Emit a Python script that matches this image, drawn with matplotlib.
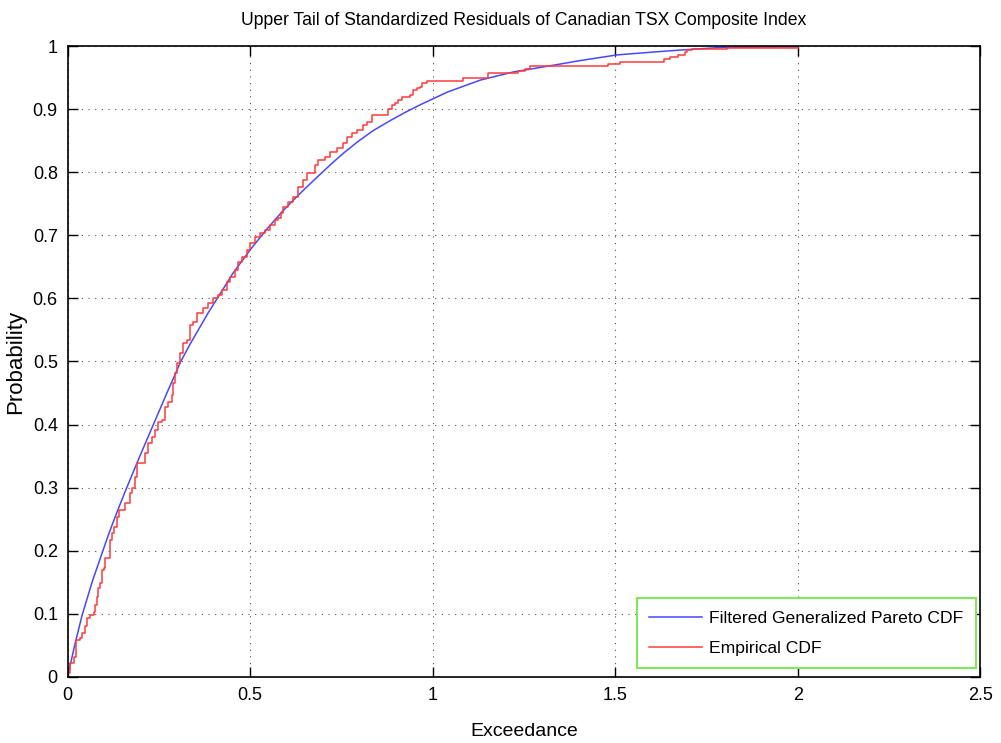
import numpy as np
import matplotlib.pyplot as plt

# Fitted generalized Pareto CDF
gpd_x = [0.0, 0.021, 0.040, 0.067, 0.095, 0.110, 0.124, 0.142, 0.160, 0.198,
         0.235, 0.272, 0.310, 0.335, 0.360, 0.385, 0.410, 0.453, 0.500, 0.546,
         0.590, 0.636, 0.683, 0.720, 0.755, 0.796, 0.837, 0.884, 0.925, 0.966,
         1.040, 1.130, 1.221, 1.314, 1.404, 1.505, 1.615, 1.686, 1.796, 2.0]
gpd_y = [0.0, 0.054, 0.098, 0.150, 0.197, 0.222, 0.244, 0.271, 0.297, 0.350,
         0.400, 0.450, 0.500, 0.527, 0.552, 0.577, 0.600, 0.640, 0.677, 0.710,
         0.739, 0.766, 0.792, 0.812, 0.830, 0.849, 0.866, 0.882, 0.895, 0.907,
         0.927, 0.946, 0.959, 0.968, 0.977, 0.986, 0.991, 0.994, 0.998, 0.999]

# Empirical CDF step corners
ecdf_x = [0.0, 0.007, 0.018, 0.023, 0.034, 0.040, 0.048, 0.053, 0.062, 0.073,
          0.075, 0.081, 0.084, 0.089, 0.095, 0.100, 0.103, 0.116, 0.122, 0.127,
          0.136, 0.141, 0.158, 0.171, 0.177, 0.185, 0.190, 0.212, 0.221, 0.232,
          0.240, 0.248, 0.259, 0.267, 0.275, 0.286, 0.289, 0.295, 0.300, 0.308,
          0.316, 0.327, 0.336, 0.344, 0.355, 0.371, 0.385, 0.399, 0.412, 0.423,
          0.437, 0.445, 0.459, 0.467, 0.478, 0.492, 0.500, 0.514, 0.527, 0.541,
          0.555, 0.568, 0.577, 0.585, 0.590, 0.604, 0.618, 0.632, 0.645, 0.656,
          0.678, 0.686, 0.705, 0.719, 0.738, 0.755, 0.766, 0.779, 0.793, 0.810,
          0.821, 0.834, 0.878, 0.889, 0.897, 0.905, 0.916, 0.938, 0.947, 0.957,
          0.966, 0.971, 0.985, 1.084, 1.152, 1.234, 1.253, 1.267, 1.481, 1.514,
          1.632, 1.651, 1.673, 1.692, 1.697, 1.711, 1.807, 2.0]
ecdf_y = [0.006, 0.022, 0.032, 0.059, 0.062, 0.070, 0.080, 0.093, 0.098, 0.103,
          0.114, 0.127, 0.141, 0.149, 0.170, 0.173, 0.189, 0.217, 0.228, 0.238,
          0.254, 0.265, 0.276, 0.292, 0.300, 0.317, 0.339, 0.355, 0.371, 0.380,
          0.391, 0.404, 0.407, 0.428, 0.436, 0.447, 0.466, 0.482, 0.498, 0.513,
          0.529, 0.534, 0.558, 0.563, 0.577, 0.585, 0.593, 0.600, 0.605, 0.613,
          0.626, 0.634, 0.645, 0.658, 0.666, 0.677, 0.688, 0.697, 0.704, 0.708,
          0.716, 0.724, 0.727, 0.735, 0.745, 0.753, 0.761, 0.777, 0.788, 0.799,
          0.811, 0.819, 0.824, 0.832, 0.838, 0.846, 0.856, 0.862, 0.867, 0.875,
          0.880, 0.891, 0.900, 0.906, 0.910, 0.914, 0.919, 0.922, 0.930, 0.933,
          0.935, 0.941, 0.945, 0.949, 0.957, 0.960, 0.963, 0.968, 0.971, 0.974,
          0.980, 0.983, 0.986, 0.990, 0.994, 0.996, 0.997, 0.997]

xticks = [0, 0.5, 1, 1.5, 2, 2.5]
xticklabels = ['0', '0.5', '1', '1.5', '2', '2.5']
yticks = [0, 0.1, 0.2, 0.3, 0.4, 0.5, 0.6, 0.7, 0.8, 0.9, 1]
yticklabels = ['0', '0.1', '0.2', '0.3', '0.4', '0.5', '0.6', '0.7', '0.8', '0.9', '1']

plt.rcParams['font.family'] = ['Liberation Sans', 'DejaVu Sans']

fig = plt.figure(figsize=(10.01, 7.43), dpi=100)
ax = fig.add_axes([0.0675, 0.089, 0.912, 0.849])

ax.plot(gpd_x, gpd_y, color='#4747ff', lw=1.1, label='Filtered Generalized Pareto CDF')
ax.plot(ecdf_x, ecdf_y, color='#ff3a3a', lw=1.1, drawstyle='steps-post', label='Empirical CDF')

ax.set_xlim(0, 2.5)
ax.set_ylim(0, 1)
ax.set_xticks(xticks)
ax.set_xticklabels(xticklabels)
ax.set_yticks(yticks)
ax.set_yticklabels(yticklabels)
ax.tick_params(direction='in', top=True, right=True, length=7, width=1,
               labelsize=13, pad=7)
ax.grid(True, color='black', linestyle=(0, (1, 5)), linewidth=0.8, alpha=0.7)
for s in ax.spines.values():
    s.set_linewidth(1.2)

ax.set_title('Upper Tail of Standardized Residuals of Canadian TSX Composite Index',
             fontsize=12.7, pad=15)
ax.set_xlabel('Exceedance', fontsize=14, labelpad=14)
ax.set_ylabel('Probability', fontsize=16, labelpad=5)

leg = ax.legend(loc='lower right', fontsize=12.6, fancybox=False, framealpha=1,
                edgecolor='#7ee85a', handlelength=3.0, handletextpad=0.45,
                borderpad=0.7, labelspacing=0.85, borderaxespad=0,
                bbox_to_anchor=(0.995, 0.014))
leg.get_frame().set_linewidth(1.5)

fig.savefig('out.png', dpi=100)
